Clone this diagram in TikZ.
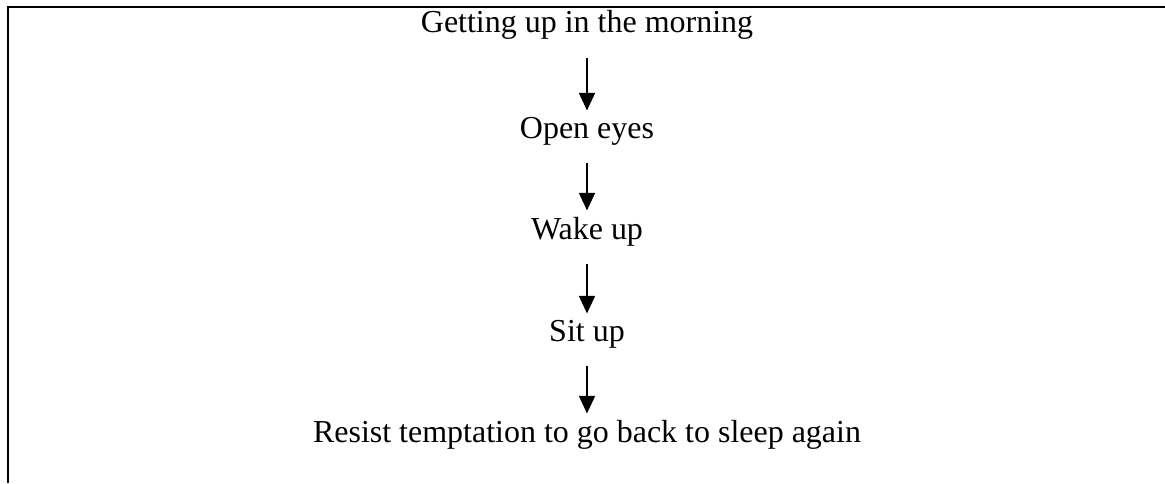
\documentclass[tikz,border=0pt]{standalone}
\usepackage{fontspec}
\setmainfont{Liberation Serif}
\usetikzlibrary{arrows.meta}

\tikzset{
  steptext/.style={font=\fontsize{18.2}{21}\selectfont, inner sep=0pt, anchor=base},
  steparrow/.style={-{Triangle[length=10pt,width=9pt]}, line width=1.3pt,
    shorten <=0.36cm, shorten >=0.12cm}
}

\begin{document}
\begin{tikzpicture}[x=0.02cm,y=-0.02cm]
            \useasboundingbox (0,0) rectangle (1165,483);
            \draw[line width=1.5pt] (8,483) -- (8,7) -- (1165,7);

            \node[steptext] (getup) at (587,33) {Getting up in the morning};
            \node[steptext] (open) at (587,138) {Open eyes};
            \node[steptext] (wake) at (587,239) {Wake up};
            \node[steptext] (sit) at (587,341) {Sit up};
            \node[steptext] (resist) at (587,442) {Resist temptation to go back to sleep again};

            \draw[steparrow] (getup) -- (open);
            \draw[steparrow] (open) -- (wake);
            \draw[steparrow] (wake) -- (sit);
            \draw[steparrow] (sit) -- (resist);
        \end{tikzpicture}
\end{document}
